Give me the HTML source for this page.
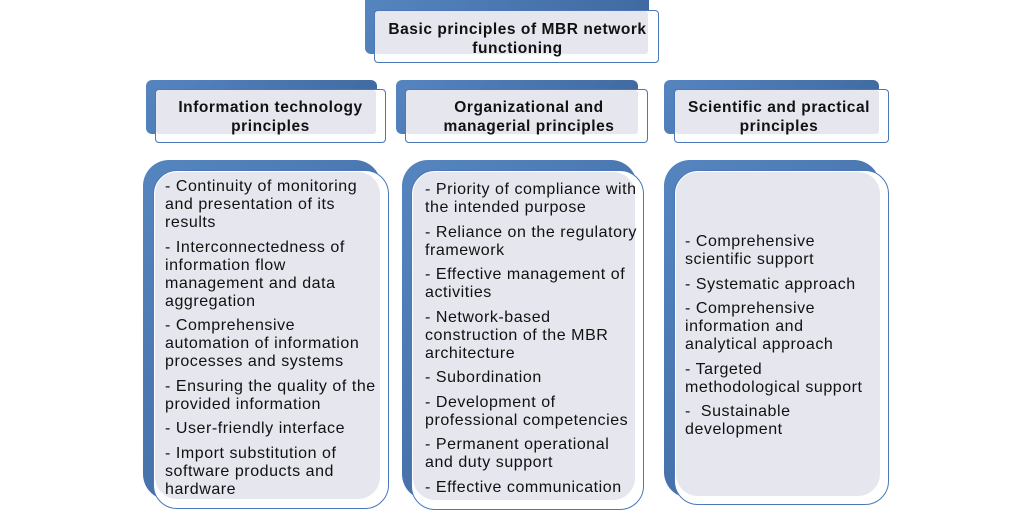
<!DOCTYPE html>
<html><head><meta charset="utf-8"><style>
body{margin:0;width:1033px;height:511px;background:#fff;position:relative;overflow:hidden;font-family:"Liberation Sans",Arial,sans-serif;color:#111}
.b{position:absolute;background:linear-gradient(135deg,#5585c0,#3d659c);}
.f{position:absolute;border:1px solid #4a78b8;background:#fff;box-sizing:border-box}
.g{position:absolute;background:#e5e6ee}
.t{position:absolute;font-weight:bold;font-size:15.5px;letter-spacing:0.55px;line-height:19px;text-align:center;display:flex;align-items:center;justify-content:center;white-space:nowrap}
.c{position:absolute;font-size:16px;letter-spacing:0.55px;line-height:18px;white-space:nowrap}
.c div{margin-bottom:6.5px}
</style></head><body>
<div class="b" style="left:365px;top:0;width:284px;height:54px;border-radius:0 0 6px 6px"></div>
<div class="f" style="left:374px;top:10px;width:285px;height:53px;border-radius:4px"></div>
<div class="g" style="left:375px;top:11px;width:273px;height:43px;border-radius:3px"></div>
<div class="t" style="left:375px;top:17px;width:285px;height:43px">Basic principles of MBR network<br>functioning</div>

<div class="b" style="left:146px;top:80px;width:231px;height:54px;border-radius:6px"></div>
<div class="f" style="left:155px;top:89px;width:231px;height:54px;border-radius:4px"></div>
<div class="g" style="left:156px;top:90px;width:220px;height:44px;border-radius:3px"></div>
<div class="t" style="left:155px;top:95px;width:231px;height:44px">Information technology<br>principles</div>

<div class="b" style="left:396px;top:80px;width:242px;height:54px;border-radius:6px"></div>
<div class="f" style="left:405px;top:89px;width:243px;height:54px;border-radius:4px"></div>
<div class="g" style="left:406px;top:90px;width:232px;height:44px;border-radius:3px"></div>
<div class="t" style="left:405px;top:95px;width:248px;height:44px">Organizational and<br>managerial principles</div>

<div class="b" style="left:664px;top:80px;width:215px;height:54px;border-radius:6px"></div>
<div class="f" style="left:674px;top:89px;width:215px;height:54px;border-radius:4px"></div>
<div class="g" style="left:675px;top:90px;width:204px;height:44px;border-radius:3px"></div>
<div class="t" style="left:674px;top:95px;width:210px;height:44px">Scientific and practical<br>principles</div>

<div class="b" style="left:143px;top:160px;width:238px;height:340px;border-radius:26px"></div>
<div class="f" style="left:153px;top:170px;width:236px;height:339px;border-radius:24px"></div>
<div class="g" style="left:155px;top:172px;width:225px;height:327px;border-radius:22px"></div>
<div class="c" style="left:165px;top:178px">
<div>- Continuity of monitoring<br>and presentation of its<br>results</div>
<div>- Interconnectedness of<br>information flow<br>management and data<br>aggregation</div>
<div>- Comprehensive<br>automation of information<br>processes and systems</div>
<div>- Ensuring the quality of the<br>provided information</div>
<div>- User-friendly interface</div>
<div>- Import substitution of<br>software products and<br>hardware</div>
</div>

<div class="b" style="left:402px;top:160px;width:235px;height:340px;border-radius:26px"></div>
<div class="f" style="left:411px;top:170px;width:233px;height:340px;border-radius:24px"></div>
<div class="g" style="left:413px;top:172px;width:222px;height:328px;border-radius:22px"></div>
<div class="c" style="left:425px;top:181px">
<div>- Priority of compliance with<br>the intended purpose</div>
<div>- Reliance on the regulatory<br>framework</div>
<div>- Effective management of<br>activities</div>
<div>- Network-based<br>construction of the MBR<br>architecture</div>
<div>- Subordination</div>
<div>- Development of<br>professional competencies</div>
<div>- Permanent operational<br>and duty support</div>
<div>- Effective communication</div>
</div>

<div class="b" style="left:664px;top:160px;width:216px;height:338px;border-radius:26px"></div>
<div class="f" style="left:674px;top:170px;width:215px;height:335px;border-radius:24px"></div>
<div class="g" style="left:676px;top:172px;width:204px;height:324px;border-radius:22px"></div>
<div class="c" style="left:685px;top:233px">
<div>- Comprehensive<br>scientific support</div>
<div>- Systematic approach</div>
<div>- Comprehensive<br>information and<br>analytical approach</div>
<div>- Targeted<br>methodological support</div>
<div>-&nbsp; Sustainable<br>development</div>
</div>
</body></html>
